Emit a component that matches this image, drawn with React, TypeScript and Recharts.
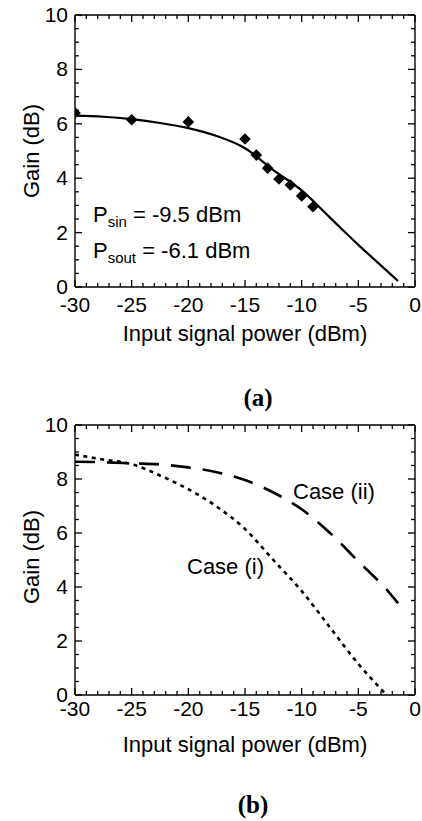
import React from "react";
import { ComposedChart, Line, Scatter, XAxis, YAxis, ReferenceLine } from "recharts";

// (a) fitted curve and measured points
const fitPower = [-30, -27.5, -25, -22.5, -20, -17.5, -15, -12.5, -10, -7.5, -5, -2.5, -1.5];
const fitGain = [6.3, 6.26, 6.17, 6.03, 5.84, 5.55, 5.1, 4.3, 3.55, 2.55, 1.55, 0.6, 0.22];

const measPower = [-30, -25, -20, -15, -14, -13, -12, -11, -10, -9];
const measGain = [6.4, 6.15, 6.07, 5.44, 4.85, 4.37, 3.97, 3.75, 3.35, 2.95];

// (b) two simulated cases
const case1Power = [-30, -27.5, -25, -22.5, -20, -17.5, -15, -12.5, -10, -7.5, -5, -2.5];
const case1Gain = [8.9, 8.72, 8.55, 8.13, 7.62, 6.98, 6.15, 5.0, 3.85, 2.5, 1.15, 0];

const case2Power = [-30, -27.5, -25, -22.5, -20, -17.5, -15, -12.5, -10, -7.5, -5, -2.5, -1.5];
const case2Gain = [8.64, 8.62, 8.58, 8.54, 8.43, 8.25, 7.96, 7.5, 6.88, 6.0, 4.95, 3.9, 3.4];

// ticks: every 1 dBm (labels every 5), every 0.5 dB (labels every 2)
const xTicks = Array.from({ length: 31 }, (_, i) => i - 30);
const yTicks = Array.from({ length: 21 }, (_, i) => i * 0.5);

const toRows = (xs: number[], ys: number[]) => xs.map((x, i) => ({ x, y: ys[i] }));

const fitData = toRows(fitPower, fitGain);
const measData = toRows(measPower, measGain);
const case1Data = toRows(case1Power, case1Gain);
const case2Data = toRows(case2Power, case2Gain);

const FONT = '"Liberation Sans", Arial, sans-serif';
const isMult = (v: number, m: number) => Math.abs(v / m - Math.round(v / m)) < 1e-6;

// inward tick lengths, in axis units
const X_TICK_MAJOR = 0.26;
const X_TICK_MINOR = 0.15;
const Y_TICK_MAJOR = 0.62;
const Y_TICK_MINOR = 0.35;

const XLabel = (gap: number) => (props: any) => {
  const { x, y, payload } = props;
  if (!isMult(payload.value, 5)) return <g />;
  return (
    <text x={x} y={y + gap} textAnchor="middle" fontSize={21} fontFamily={FONT} fill="#000">
      {payload.value}
    </text>
  );
};

const YLabel = (props: any) => {
  const { x, y, payload } = props;
  if (!isMult(payload.value, 2)) return <g />;
  return (
    <text x={x - 7} y={y + 7} textAnchor="end" fontSize={21} fontFamily={FONT} fill="#000">
      {payload.value}
    </text>
  );
};

const Diamond = (props: any) => {
  const { cx, cy } = props;
  const s = 5.8;
  return <path d={`M${cx},${cy - s}L${cx + s},${cy}L${cx},${cy + s}L${cx - s},${cy}Z`} fill="#000" />;
};

const lineStyle = { stroke: "#000", strokeWidth: 1.3, ifOverflow: "visible" as const };

// box frame (top/right) plus inward ticks on all four sides
const frameLines = (id: string) => {
  const out: React.ReactNode[] = [
    <ReferenceLine key={`${id}-top`} y={10} {...lineStyle} strokeWidth={1.4} />,
    <ReferenceLine key={`${id}-right`} x={0} {...lineStyle} strokeWidth={1.4} />,
  ];
  xTicks.forEach((v) => {
    const l = isMult(v, 5) ? X_TICK_MAJOR : X_TICK_MINOR;
    out.push(<ReferenceLine key={`${id}-xb${v}`} segment={[{ x: v, y: 0 }, { x: v, y: l }]} {...lineStyle} />);
    out.push(<ReferenceLine key={`${id}-xt${v}`} segment={[{ x: v, y: 10 }, { x: v, y: 10 - l }]} {...lineStyle} />);
  });
  yTicks.forEach((v) => {
    const l = isMult(v, 2) ? Y_TICK_MAJOR : Y_TICK_MINOR;
    out.push(<ReferenceLine key={`${id}-yl${v}`} segment={[{ x: -30, y: v }, { x: -30 + l, y: v }]} {...lineStyle} />);
    out.push(<ReferenceLine key={`${id}-yr${v}`} segment={[{ x: 0, y: v }, { x: -l, y: v }]} {...lineStyle} />);
  });
  return out;
};

const frame = { stroke: "#000", strokeWidth: 1.4 };
const xCommon = {
  type: "number" as const,
  dataKey: "x",
  domain: [-30, 0],
  allowDataOverflow: true,
  ticks: xTicks,
  interval: 0,
  tickSize: 0,
  tickMargin: 0,
  tickLine: false,
  axisLine: frame,
};
const yCommon = {
  type: "number" as const,
  domain: [0, 10],
  allowDataOverflow: true,
  ticks: yTicks,
  interval: 0,
  tickSize: 0,
  tickMargin: 0,
  tickLine: false,
  axisLine: frame,
  width: 75,
  tick: YLabel,
};
const margin = { top: 15, right: 7, bottom: 0, left: 0 };

const txt = { fontFamily: FONT, fontSize: 22, fill: "#000" };
const cap = { fontFamily: '"Liberation Serif", "Times New Roman", serif', fontWeight: "bold" as const, fontSize: 25, fill: "#000" };

export default function App() {
  return (
    <div style={{ position: "absolute", left: 0, top: 0, width: 422, height: 821 }}>
      <div style={{ position: "absolute", left: 0, top: 0 }}>
        <ComposedChart width={422} height={350} margin={margin}>
          <XAxis {...xCommon} height={63} tick={XLabel(25)} />
          <YAxis {...yCommon} />
          {frameLines("a")}
          <Line data={fitData} dataKey="y" type="monotone" stroke="#000" strokeWidth={2.2} dot={false} isAnimationActive={false} />
          <Scatter data={measData} dataKey="y" shape={<Diamond />} fill="#000" isAnimationActive={false} />
        </ComposedChart>
      </div>

      <div style={{ position: "absolute", left: 0, top: 410 }}>
        <ComposedChart width={422} height={360} margin={margin}>
          <XAxis {...xCommon} height={75} tick={XLabel(21)} />
          <YAxis {...yCommon} />
          {frameLines("b")}
          <Line data={case1Data} dataKey="y" type="monotone" stroke="#000" strokeWidth={2.6} strokeDasharray="4 4.5" dot={false} isAnimationActive={false} />
          <Line data={case2Data} dataKey="y" type="monotone" stroke="#000" strokeWidth={2.6} strokeDasharray="20 12" dot={false} isAnimationActive={false} />
        </ComposedChart>
      </div>

      <svg width={422} height={821} style={{ position: "absolute", left: 0, top: 0, pointerEvents: "none" }}>
        <text x={245} y={341} textAnchor="middle" {...txt}>Input signal power (dBm)</text>
        <text transform="translate(31,151) rotate(-90)" textAnchor="middle" dy="0.35em" {...txt}>Gain (dB)</text>
        <text x={93} y={222} {...txt}>
          <tspan>P</tspan>
          <tspan fontSize={15} dy={5}>sin</tspan>
          <tspan dy={-5}> = -9.5 dBm</tspan>
        </text>
        <text x={93} y={258} {...txt}>
          <tspan>P</tspan>
          <tspan fontSize={15} dy={5}>sout</tspan>
          <tspan dy={-5}> = -6.1 dBm</tspan>
        </text>
        <text x={258} y={406} textAnchor="middle" {...cap}>(a)</text>

        <text x={245} y={752} textAnchor="middle" {...txt}>Input signal power (dBm)</text>
        <text transform="translate(31,557) rotate(-90)" textAnchor="middle" dy="0.35em" {...txt}>Gain (dB)</text>
        <text x={293} y={499} {...txt}>Case (ii)</text>
        <text x={187} y={574} {...txt}>Case (i)</text>
        <text x={253} y={813} textAnchor="middle" {...cap}>(b)</text>
      </svg>
    </div>
  );
}
